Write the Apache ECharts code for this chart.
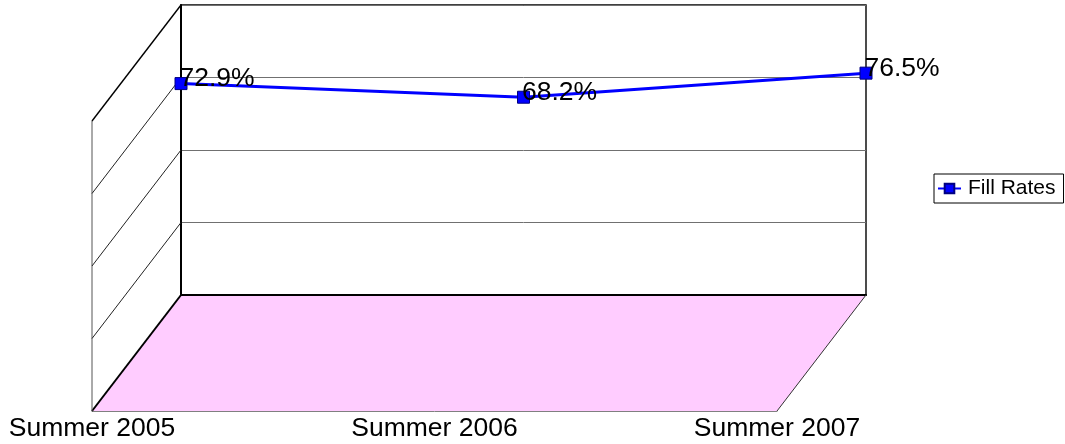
<!DOCTYPE html>
<html><head><meta charset="utf-8">
<script src="https://cdn.jsdelivr.net/npm/echarts@6/dist/echarts.min.js"></script>
<style>html,body{margin:0;padding:0;background:#fff}#c{width:1065px;height:444px}</style>
</head><body><div id="c"></div>
<script>
const categories = ['Summer 2005', 'Summer 2006', 'Summer 2007'];
const fillRates = [72.9, 68.2, 76.5];
const yTicks = [0, 25, 50, 75, 100];
const seriesName = 'Fill Rates';

const FONT = '"Liberation Sans", Arial, Helvetica, sans-serif';
const G = {left: 181, top: 5, width: 685, height: 290};
const DX = -89, DY = 116;

const chart = echarts.init(document.getElementById('c'), null, {renderer: 'canvas'});
const option = {
  animation: false,
  backgroundColor: '#fff',
  grid: [
    {left: G.left, top: G.top, width: G.width, height: G.height, show: true, borderColor: '#000', borderWidth: 1.4, backgroundColor: 'transparent'},
    {left: G.left + DX, top: G.top + DY, width: G.width, height: G.height, show: false}
  ],
  xAxis: [
    {type: 'category', gridIndex: 0, data: categories, boundaryGap: false,
     axisLine: {show: true, lineStyle: {color: '#000', width: 2}}, axisTick: {show: false},
     axisLabel: {show: false}, splitLine: {show: false}, z: 3},
    {type: 'category', gridIndex: 1, data: categories, boundaryGap: false,
     axisLine: {show: true, lineStyle: {color: '#808080', width: 1}}, axisTick: {show: false},
     axisLabel: {show: true, interval: 0, color: '#000', fontSize: 26.5, fontFamily: FONT, margin: 4},
     splitLine: {show: false}, z: 3}
  ],
  yAxis: [
    {type: 'value', gridIndex: 0, min: yTicks[0], max: yTicks[yTicks.length - 1], interval: yTicks[1] - yTicks[0],
     axisLine: {show: true, lineStyle: {color: '#000', width: 2}}, axisTick: {show: false},
     axisLabel: {show: false}, splitLine: {show: true, lineStyle: {color: '#707070', width: 1}}, z: 3},
    {type: 'value', gridIndex: 1, min: yTicks[0], max: yTicks[yTicks.length - 1], interval: yTicks[1] - yTicks[0], show: false}
  ],
  legend: {
    data: [seriesName], left: 934, top: 174, orient: 'vertical',
    padding: [4, 8, 4, 3], borderColor: '#000', borderWidth: 1,
    itemWidth: 23, itemHeight: 12, itemGap: 0,
    textStyle: {fontSize: 21, fontFamily: FONT, color: '#000', padding: [0, 0, 0, 2]}
  },
  series: [{
    name: seriesName, type: 'line', xAxisIndex: 0, yAxisIndex: 0, data: fillRates,
    symbol: 'rect', symbolSize: 12,
    lineStyle: {color: '#0000FF', width: 3},
    itemStyle: {color: '#0000FF', borderColor: '#000080', borderWidth: 1},
    label: {show: true, position: [5, 2], align: 'left', verticalAlign: 'middle',
            formatter: p => p.value.toFixed(1) + '%', color: '#000', fontSize: 26.5, fontFamily: FONT},
    z: 10
  }]
};
chart.setOption(option);

// 3D walls derived from the axis scales
function P(ci, v) { return chart.convertToPixel({gridIndex: 0}, [ci, v]); }
const last = categories.length - 1;
const ymin = yTicks[0], ymax = yTicks[yTicks.length - 1];
const b0 = P(0, ymin), b2 = P(last, ymin), t0 = P(0, ymax);
const f0 = [b0[0] + DX, b0[1] + DY], f2 = [b2[0] + DX, b2[1] + DY];
const els = [];
els.push({type: 'polygon', z: -5, shape: {points: [b0, b2, f2, f0]}, style: {fill: '#FFCCFF', stroke: null}});
els.push({type: 'line', z: 5, shape: {x1: b0[0], y1: b0[1], x2: f0[0], y2: f0[1]}, style: {stroke: '#000', lineWidth: 2}});
els.push({type: 'line', z: 5, shape: {x1: b2[0], y1: b2[1], x2: f2[0], y2: f2[1]}, style: {stroke: '#333', lineWidth: 1}});
els.push({type: 'line', z: 5, shape: {x1: t0[0] + DX, y1: t0[1] + DY, x2: f0[0], y2: f0[1]}, style: {stroke: '#555', lineWidth: 1}});
yTicks.slice(1).forEach((v, i) => {
  const p = P(0, v);
  const top = i === yTicks.length - 2;
  els.push({type: 'line', z: 5, shape: {x1: p[0], y1: p[1], x2: p[0] + DX, y2: p[1] + DY},
            style: {stroke: top ? '#000' : '#222', lineWidth: top ? 1.4 : 1}});
});
chart.setOption({graphic: {elements: els}});
</script>
</body></html>
